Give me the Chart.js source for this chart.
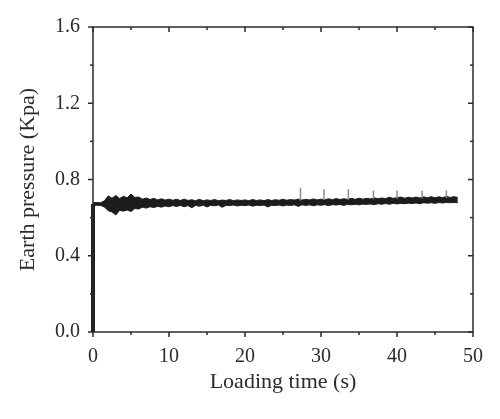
<html lang="en">
<head>
  <meta charset="UTF-8">
  <title>Earth pressure</title>
  <script src="https://cdn.jsdelivr.net/npm/chart.js"></script>
  <style>
    body { margin: 0; background: #fff; }
    .wrap { width: 500px; height: 419px; }
  </style>
</head>
<body>
  <div class="wrap"><canvas id="chart" width="500" height="419"></canvas></div>

  <script>
    // the recorded signal is a dense noisy band: keep its upper and lower edge
    var bandTime = [
      0, 0.5, 1.0, 1.5, 2.0, 2.5, 3.0, 3.5, 4.0, 4.5, 5.0, 5.5, 6.0, 6.5, 7.0, 7.5, 8.0, 8.5, 9.0, 9.5,
      10.0, 10.5, 11.0, 11.5, 12.0, 12.5, 13.0, 13.5, 14.0, 14.5, 15.0, 15.5, 16.0, 16.5, 17.0, 17.5, 18.0, 18.5, 19.0, 19.5,
      20.0, 20.5, 21.0, 21.5, 22.0, 22.5, 23.0, 23.5, 24.0, 24.5, 25.0, 25.5, 26.0, 26.5, 27.0, 27.5, 28.0, 28.5, 29.0, 29.5,
      30.0, 30.5, 31.0, 31.5, 32.0, 32.5, 33.0, 33.5, 34.0, 34.5, 35.0, 35.5, 36.0, 36.5, 37.0, 37.5, 38.0, 38.5, 39.0, 39.5,
      40.0, 40.5, 41.0, 41.5, 42.0, 42.5, 43.0, 43.5, 44.0, 44.5, 45.0, 45.5, 46.0, 46.5, 47.0, 47.5, 48.0
    ];
    var bandUpper = [
      0.678, 0.679, 0.678, 0.688, 0.714, 0.702, 0.716, 0.700, 0.712, 0.704, 0.724, 0.706, 0.708, 0.697, 0.703, 0.695, 0.701, 0.693, 0.699, 0.692,
      0.697, 0.691, 0.696, 0.690, 0.697, 0.690, 0.694, 0.689, 0.696, 0.689, 0.693, 0.690, 0.695, 0.689, 0.692, 0.690, 0.695, 0.689, 0.693, 0.690,
      0.693, 0.689, 0.695, 0.690, 0.693, 0.689, 0.695, 0.690, 0.694, 0.691, 0.696, 0.691, 0.695, 0.692, 0.697, 0.692, 0.696, 0.693, 0.698, 0.693,
      0.697, 0.694, 0.699, 0.694, 0.700, 0.695, 0.699, 0.696, 0.701, 0.696, 0.702, 0.697, 0.701, 0.698, 0.704, 0.699, 0.703, 0.700, 0.707, 0.701,
      0.705, 0.708, 0.702, 0.707, 0.703, 0.708, 0.703, 0.709, 0.704, 0.710, 0.704, 0.709, 0.705, 0.711, 0.706, 0.710, 0.706
    ];
    var bandLower = [
      0.664, 0.665, 0.664, 0.656, 0.636, 0.630, 0.614, 0.638, 0.634, 0.640, 0.632, 0.648, 0.645, 0.655, 0.650, 0.657, 0.653, 0.659, 0.655, 0.661,
      0.657, 0.663, 0.659, 0.664, 0.657, 0.663, 0.652, 0.664, 0.660, 0.665, 0.656, 0.665, 0.662, 0.666, 0.654, 0.665, 0.663, 0.666, 0.661, 0.665,
      0.663, 0.666, 0.660, 0.665, 0.663, 0.666, 0.656, 0.665, 0.663, 0.666, 0.661, 0.666, 0.664, 0.667, 0.659, 0.667, 0.664, 0.667, 0.662, 0.667,
      0.665, 0.668, 0.663, 0.668, 0.666, 0.669, 0.664, 0.670, 0.667, 0.670, 0.667, 0.671, 0.669, 0.672, 0.668, 0.673, 0.670, 0.674, 0.670, 0.675,
      0.672, 0.675, 0.673, 0.676, 0.674, 0.677, 0.673, 0.678, 0.676, 0.678, 0.675, 0.679, 0.677, 0.679, 0.678, 0.680, 0.678
    ];

    // loading step at t = 0
    var riseTime = [0, 0];
    var risePressure = [0, 0.671];

    // the grey peaks that stick out of the trace
    var peakTime = [27.3, 30.4, 33.6, 36.9, 40.0, 43.3, 46.5];
    var peakBase = [0.690, 0.692, 0.694, 0.696, 0.699, 0.701, 0.703];
    var peakTop = [0.757, 0.749, 0.749, 0.742, 0.742, 0.742, 0.742];

    var xTicks = [0, 10, 20, 30, 40, 50];
    var yTicks = [0.0, 0.4, 0.8, 1.2, 1.6];

    function pairs(xs, ys){ return xs.map(function(t, i){ return { x: t, y: ys[i] }; }); }

    var peaks = [];
    peakTime.forEach(function(t, i){
      peaks.push({ x: t, y: peakBase[i] }, { x: t, y: peakTop[i] }, { x: t, y: null });
    });

    var serif = '"Liberation Serif", "DejaVu Serif", serif';
    var ink = '#2b2b2b';
    var trace = '#1c1c1c';

    // frame with Origin-style ticks: out on left/bottom, in on top/right
    var frameTicks = {
      id: 'frameTicks',
      afterDraw: function(chart){
        var ctx = chart.ctx, a = chart.chartArea, sx = chart.scales.x, sy = chart.scales.y;
        function seg(x1, y1, x2, y2){ ctx.beginPath(); ctx.moveTo(x1, y1); ctx.lineTo(x2, y2); ctx.stroke(); }
        ctx.save();
        ctx.strokeStyle = ink;
        ctx.lineWidth = 1.5;
        ctx.strokeRect(a.left, a.top, a.right - a.left, a.bottom - a.top);
        xTicks.forEach(function(v, i){
          var px = sx.getPixelForValue(v);
          seg(px, a.bottom, px, a.bottom + 5);
          seg(px, a.top, px, a.top + 5);
          if (i < xTicks.length - 1) {
            var mx = sx.getPixelForValue((v + xTicks[i + 1]) / 2);
            seg(mx, a.bottom, mx, a.bottom + 3);
            seg(mx, a.top, mx, a.top + 3);
          }
        });
        yTicks.forEach(function(v, i){
          var py = sy.getPixelForValue(v);
          seg(a.left - 5, py, a.left, py);
          seg(a.right - 5, py, a.right, py);
          if (i < yTicks.length - 1) {
            var my = sy.getPixelForValue((v + yTicks[i + 1]) / 2);
            seg(a.left - 3, my, a.left, my);
            seg(a.right - 3, my, a.right, my);
          }
        });
        ctx.restore();
      }
    };

    new Chart(document.getElementById('chart'), {
      type: 'line',
      data: {
        datasets: [
          {
            data: peaks,
            borderColor: '#8c8c8c',
            borderWidth: 1.5,
            pointRadius: 0,
            spanGaps: false
          },
          {
            data: pairs(bandTime, bandUpper),
            borderColor: trace,
            borderWidth: 1,
            pointRadius: 0,
            tension: 0,
            fill: false
          },
          {
            data: pairs(bandTime, bandLower),
            borderColor: trace,
            backgroundColor: trace,
            borderWidth: 1,
            pointRadius: 0,
            tension: 0,
            fill: '-1'
          },
          {
            data: pairs(riseTime, risePressure),
            borderColor: trace,
            borderWidth: 4,
            pointRadius: 0,
            clip: 4
          }
        ]
      },
      options: {
        responsive: false,
        animation: false,
        devicePixelRatio: 1,
        layout: { padding: { top: 27, right: 27, left: 0, bottom: 0 } },
        plugins: { legend: { display: false }, tooltip: { enabled: false } },
        scales: {
          x: {
            type: 'linear',
            min: 0,
            max: 50,
            afterFit: function(s){ s.height = 87; },
            afterBuildTicks: function(s){ s.ticks = xTicks.map(function(v){ return { value: v }; }); },
            grid: { display: false, drawTicks: false },
            border: { display: false },
            ticks: { color: ink, padding: 13, maxRotation: 0, font: { family: serif, size: 20 } },
            title: {
              display: true,
              text: 'Loading time (s)',
              color: ink,
              padding: { top: 0, bottom: 24 },
              font: { family: serif, size: 22 }
            }
          },
          y: {
            min: 0,
            max: 1.6,
            afterFit: function(s){ s.width = 93; },
            afterBuildTicks: function(s){ s.ticks = yTicks.map(function(v){ return { value: v }; }); },
            grid: { display: false, drawTicks: false },
            border: { display: false },
            ticks: {
              color: ink,
              padding: 13,
              font: { family: serif, size: 20 },
              callback: function(v){ return Number(v).toFixed(1); }
            },
            title: {
              display: true,
              text: 'Earth pressure (Kpa)',
              color: ink,
              padding: { top: 15, bottom: 0 },
              font: { family: serif, size: 22 }
            }
          }
        }
      },
      plugins: [frameTicks]
    });
  </script>
</body>
</html>
